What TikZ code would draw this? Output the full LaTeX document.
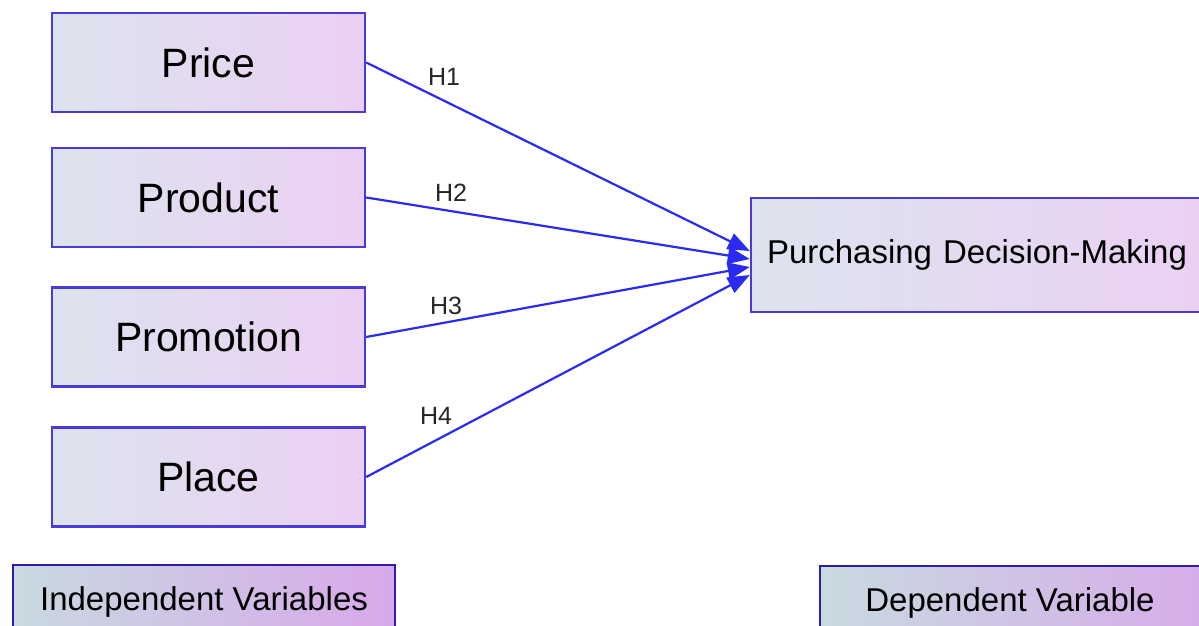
\documentclass[tikz,border=0pt]{standalone}
\usepackage{fontspec}
\setmainfont{Liberation Sans}
\usetikzlibrary{arrows.meta,calc}
\definecolor{boxline}{HTML}{4A3ADA}
\definecolor{keyline}{HTML}{2C1CA8}
\definecolor{arrowblue}{HTML}{2A2AF0}
\definecolor{boxleft}{HTML}{DDE3EE}
\definecolor{boxright}{HTML}{EBD0F3}
\definecolor{keyleft}{HTML}{C8DAE0}
\definecolor{keyright}{HTML}{D8A8EA}
\tikzset{
  varbox/.style={draw=boxline, line width=2.4pt, left color=boxleft,
                 right color=boxright, minimum width=313pt,
                 minimum height=99pt, inner sep=0pt, font=\fontsize{41}{41}\selectfont},
  depbox/.style={draw=boxline, line width=2.4pt, left color=boxleft,
                 right color=boxright, minimum width=470pt, text width=438pt,
                 align=left, minimum height=114pt, inner xsep=16pt, inner ysep=0pt,
                 font=\fontsize{33}{33}\selectfont},
  keybox/.style={draw=keyline, line width=2.4pt, left color=keyleft,
                 right color=keyright, minimum height=80pt, inner sep=0pt,
                 font=\fontsize{33}{33}\selectfont},
  hyparr/.style={-{Triangle[length=22pt,width=17pt]}, draw=arrowblue, line width=2.2pt},
  hyplab/.style={font=\fontsize{25}{25}\selectfont, text=black!85},
}

\begin{document}
\begin{tikzpicture}[x=1pt,y=-1pt]
\useasboundingbox (0,0) rectangle (1199,626);
\node[varbox] (price) at (208.5,62.5) {Price};
\node[varbox] (product) at (208.5,197.5) {Product};
\node[varbox] (promo) at (208.5,337) {Promotion};
\node[varbox] (place) at (208.5,477) {Place};
\node[depbox] (pdm) at (986,255) {Purchasing Decision-Making};
\node[keybox, minimum width=382pt] (indep) at (204,605) {\raisebox{12pt}{Independent Variables}};
\node[keybox, minimum width=420pt] (dep) at (1030,606) {\hspace*{-40pt}\raisebox{12pt}{Dependent Variable}};
\coordinate (t1) at ($(pdm.west)+(0,-4)$);
\coordinate (t2) at ($(pdm.west)+(0,4)$);
\coordinate (t3) at ($(pdm.west)+(0,12)$);
\coordinate (t4) at ($(pdm.west)+(0,20)$);
\draw[hyparr] (price.east) -- (t1);
\draw[hyparr] (product.east) -- (t2);
\draw[hyparr] (promo.east) -- (t3);
\draw[hyparr] (place.east) -- (t4);
\node[hyplab] (h1) at (444,77) {H1};
\node[hyplab] (h2) at (451,193) {H2};
\node[hyplab] (h3) at (446,306) {H3};
\node[hyplab] (h4) at (436,416) {H4};
\end{tikzpicture}
\end{document}
